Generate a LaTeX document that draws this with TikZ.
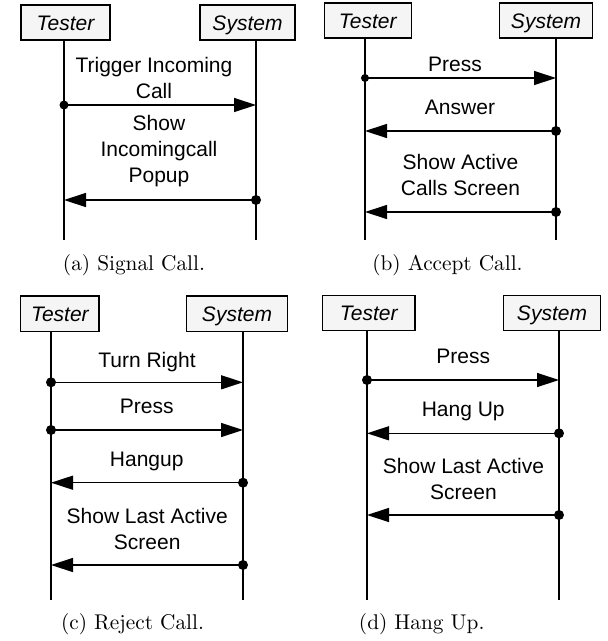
\documentclass[tikz,border=0pt]{standalone}
\usepackage{fontspec}
\newfontfamily\arialf{Liberation Sans}
\usetikzlibrary{arrows.meta}
\tikzset{
  actor/.style={draw, line width=1.3pt, fill=gray!8, inner sep=0pt, minimum height=35pt,
    text height=15pt, text depth=0pt,
    font=\arialf\itshape\fontsize{21}{25}\selectfont},
  lbl/.style={inner sep=0pt, align=center, font=\arialf\fontsize{21}{26}\selectfont},
  life/.style={line width=1.3pt},
  msg/.style={line width=1.3pt, -{Triangle[length=22pt,width=14pt]}},
  subcap/.style={inner sep=0pt, anchor=base},
}
\newcommand\capt[1]{\scalebox{2.13}{\fontsize{10}{12}\selectfont #1}}
\begin{document}
\begin{tikzpicture}[x=1pt,y=-1pt]
\useasboundingbox (0,0) rectangle (608,641);
% ---------------- (a)
\node[actor, minimum width=89pt] (TA) at (65.5,22.5) {Tester};
\node[actor, minimum width=95pt] (SA) at (247.5,22.5) {System};
\coordinate (tA) at (64,240);
\coordinate (sA) at (256,240);
\draw[life] (TA.south -| tA) -- (tA);
\draw[life] (SA.south -| sA) -- (sA);
\node[lbl] (la1) at (154,77.9) {Trigger Incoming\\Call};
\draw[msg] (tA |- 0,105) -- (sA |- 0,105);
\fill (tA |- 0,105) circle (4.5pt);
\node[lbl] (la2) at (159,151.2) {Show\\Incomingcall\\Popup};
\draw[msg] (sA |- 0,200) -- (tA |- 0,200);
\fill (sA |- 0,200) circle (5pt);
\node[subcap] (ca) at (134,270) {\capt{(a) Signal Call.}};
% ---------------- (b)
\node[actor, minimum width=87pt] (TB) at (367.7,20.5) {Tester};
\node[actor, minimum width=92.6pt] (SB) at (546,20.5) {System};
\coordinate (tB) at (365,240);
\coordinate (sB) at (556,240);
\draw[life] (TB.south -| tB) -- (tB);
\draw[life] (SB.south -| sB) -- (sB);
\node[lbl] (lb1) at (455,64) {Press};
\draw[msg] (tB |- 0,78) -- (sB |- 0,78);
\fill (tB |- 0,78) circle (4pt);
\node[lbl] (lb2) at (460,107.4) {Answer};
\draw[msg] (sB |- 0,131) -- (tB |- 0,131);
\fill (sB |- 0,131) circle (5pt);
\node[lbl] (lb3) at (460.5,174.9) {Show Active\\Calls Screen};
\draw[msg] (sB |- 0,212) -- (tB |- 0,212);
\fill (sB |- 0,212) circle (5pt);
\node[subcap] (cb) at (447.5,270) {\capt{(b) Accept Call.}};
% ---------------- (c)
\node[actor, minimum width=78.3pt, minimum height=35.7pt] (TC) at (59.9,313.9) {Tester};
\node[actor, minimum width=100.6pt, minimum height=35.7pt] (SC) at (237,313.9) {System};
\coordinate (tC) at (51,600);
\coordinate (sC) at (243,600);
\draw[life] (TC.south -| tC) -- (tC);
\draw[life] (SC.south -| sC) -- (sC);
\node[lbl] (lc1) at (147,361.9) {Turn Right};
\draw[msg] (tC |- 0,382.3) -- (sC |- 0,382.3);
\fill (tC |- 0,382.3) circle (5pt);
\node[lbl] (lc2) at (146.7,406.4) {Press};
\draw[msg] (tC |- 0,430) -- (sC |- 0,430);
\fill (tC |- 0,430) circle (5pt);
\node[lbl] (lc3) at (146.7,461.2) {Hangup};
\draw[msg] (sC |- 0,482.7) -- (tC |- 0,482.7);
\fill (sC |- 0,482.7) circle (5pt);
\node[lbl] (lc4) at (147.2,528.5) {Show Last Active\\Screen};
\draw[msg] (sC |- 0,565) -- (tC |- 0,565);
\fill (sC |- 0,565) circle (5pt);
\node[subcap] (cc) at (132.5,629.3) {\capt{(c) Reject Call.}};
% ---------------- (d)
\node[actor, minimum width=92.7pt] (TD) at (368.7,313.2) {Tester};
\node[actor, minimum width=97.4pt] (SD) at (552,313.2) {System};
\coordinate (tD) at (367,600);
\coordinate (sD) at (559,600);
\draw[life] (TD.south -| tD) -- (tD);
\draw[life] (SD.south -| sD) -- (sD);
\node[lbl] (ld1) at (463.2,356.4) {Press};
\draw[msg] (tD |- 0,380) -- (sD |- 0,380);
\fill (tD |- 0,380) circle (5pt);
\node[lbl] (ld2) at (463.2,411.2) {Hang Up};
\draw[msg] (sD |- 0,433.3) -- (tD |- 0,433.3);
\fill (sD |- 0,433.3) circle (5pt);
\node[lbl] (ld3) at (463.5,478.5) {Show Last Active\\Screen};
\draw[msg] (sD |- 0,515) -- (tD |- 0,515);
\fill (sD |- 0,515) circle (5pt);
\node[subcap] (cd) at (421.7,629.3) {\capt{(d) Hang Up.}};
\end{tikzpicture}
\end{document}
